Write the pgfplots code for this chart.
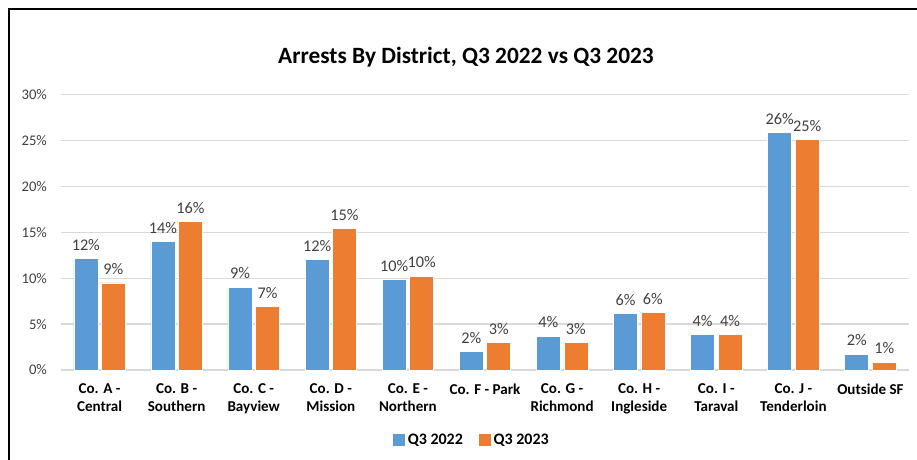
\documentclass[border=0pt]{standalone}
\usepackage{fontspec}
\setmainfont{Carlito}
\usepackage{pgfplots}
\pgfplotsset{compat=1.18}
\definecolor{cblue}{HTML}{5B9BD5}
\definecolor{corange}{HTML}{ED7D31}
\definecolor{cgrid}{HTML}{D9D9D9}
\definecolor{ctext}{HTML}{404040}
\begin{document}
\begin{tikzpicture}[x=0.75pt,y=0.75pt]
\useasboundingbox (0,0) rectangle (917,460);
\draw[line width=1.5pt] (9,0) -- (9,451) -- (917,451);
\node[font=\bfseries\fontsize{17.5}{20}\selectfont] at (466,403) {Arrests By District, Q3 2022 vs Q3 2023};
\begin{axis}[
  at={(45.75pt,67.5pt)}, anchor=south west,
  scale only axis, width=636pt, height=206.5pt,
  ybar=2.6pt, bar width=18pt,
  ymin=0, ymax=30, xmin=-0.5, xmax=10.5,
  axis line style={draw=none},
  major tick length=0pt,
  ymajorgrids, major grid style={cgrid, line width=1pt},
  ytick={0,5,10,15,20,25,30},
  yticklabels={0\%,5\%,10\%,15\%,20\%,25\%,30\%},
  yticklabel style={font=\fontsize{11}{13}\selectfont, text=ctext, xshift=-7pt},
  xtick={0,1,2,3,4,5,6,7,8,9,10},
  xticklabels={{Co. A -\\Central},{Co. B -\\Southern},{Co. C -\\Bayview},{Co. D -\\Mission},{Co. E -\\Northern},{Co. F - Park},{Co. G -\\Richmond},{Co. H -\\Ingleside},{Co. I -\\Taraval},{Co. J -\\Tenderloin},{Outside SF}},
  xticklabel style={align=center, font=\bfseries\fontsize{11.3}{13.5}\selectfont, text=black, yshift=-7pt},
  nodes near coords={\pgfmathprintnumber[fixed,precision=0]{\pgfplotspointmeta}\%},
  /pgf/number format/assume math mode=true,
  every node near coord/.append style={font=\fontsize{12.2}{14}\selectfont, text=ctext, yshift=2.5pt},
  legend style={at={(0.485,-0.254)}, anchor=center, draw=none, legend columns=2,
    font=\bfseries\fontsize{12}{14}\selectfont,
    /tikz/every even column/.append style={column sep=10pt}},
  legend image code/.code={\fill[#1, draw=none] (0pt,-4.5pt) rectangle (9pt,4.5pt);},
  clip=false,
]
\addplot[fill=cblue, draw=white, line width=0.4pt] coordinates {
 (0,12.17) (1,14.02) (2,9.04) (3,12.02) (4,9.84) (5,2.03) (6,3.70) (7,6.14) (8,3.89) (9,25.86) (10,1.74)};
\addplot[fill=corange, draw=white, line width=0.4pt] coordinates {
 (0,9.48) (1,16.20) (2,6.94) (3,15.44) (4,10.24) (5,2.98) (6,2.98) (7,6.25) (8,3.89) (9,25.14) (10,0.87)};
\legend{Q3 2022, Q3 2023}
\end{axis}
\end{tikzpicture}
\end{document}
